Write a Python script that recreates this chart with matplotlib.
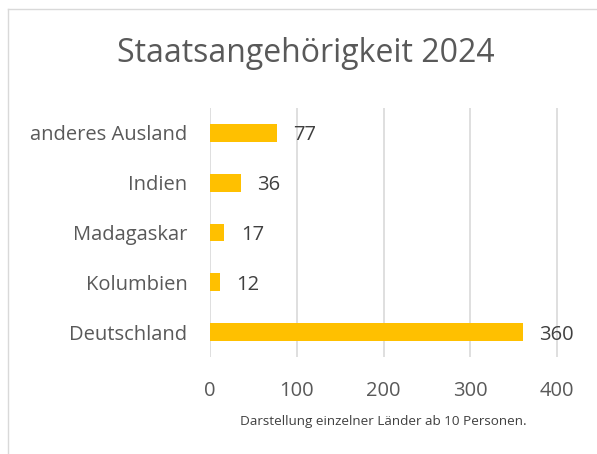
import numpy as np
import matplotlib.pyplot as plt

plt.rcParams['font.family'] = ['Open Sans', 'DejaVu Sans']

# Daten
laender = ['Deutschland', 'Kolumbien', 'Madagaskar', 'Indien', 'anderes Ausland']
personen = [360, 12, 17, 36, 77]
xticks = [0, 100, 200, 300, 400]

grau = '#595959'

fig = plt.figure(figsize=(5.97, 4.54), dpi=100)
# x-Achse etwas ueber 400 hinaus, damit die letzte Gitterlinie sichtbar bleibt
ax = fig.add_axes([209.7/597, 1 - 357/454, 347.6 * 405 / 400 / 597, 249/454])

y = np.arange(len(laender))
ax.barh(y, personen, height=0.355, color='#FFC000', zorder=3)
for yi, v in zip(y, personen):
    ax.text(v + 19, yi - 0.05, str(v), va='center', ha='left', fontsize=14.5, color='#404040')

ax.set_xlim(0, 405)
ax.set_ylim(-0.5, len(laender) - 0.5)
ax.set_yticks(y)
ax.set_yticklabels(laender, fontsize=14.5, color=grau)
ax.set_xticks(xticks)
ax.set_xticklabels([str(t) for t in xticks], fontsize=14.5, color=grau)
ax.tick_params(length=0)
ax.tick_params(axis='y', pad=16)
ax.tick_params(axis='x', pad=17)
ax.grid(axis='x', color='#D9D9D9', linewidth=1.2, zorder=0)
ax.set_axisbelow(True)
for s in ax.spines.values():
    s.set_visible(False)

fig.text(306/597, 1 - 54/454, 'Staatsangehörigkeit 2024', ha='center', va='center',
         fontsize=23, color=grau)
fig.text(383/597, 1 - 421/454, 'Darstellung einzelner Länder ab 10 Personen.',
         ha='center', va='center', fontsize=9.7, color='#404040')

# Rahmen oben und links
fig.add_artist(plt.Line2D([8/597, 1], [1 - 9/454, 1 - 9/454], color='#D9D9D9', lw=1))
fig.add_artist(plt.Line2D([8/597, 8/597], [0, 1 - 9/454], color='#D9D9D9', lw=1))

fig.savefig('out.png', dpi=100)
